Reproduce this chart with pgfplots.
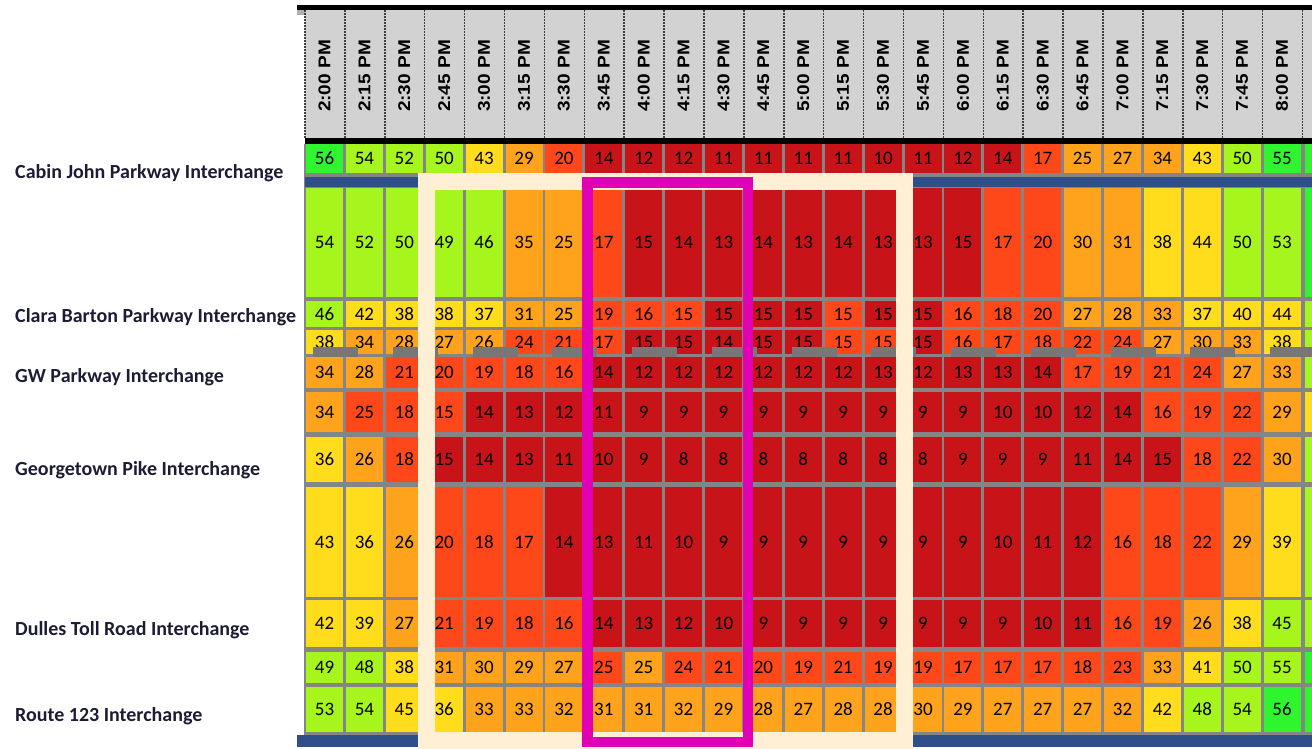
\documentclass[border=0pt]{standalone}
\usepackage{fontspec}
\usepackage{graphicx}
\usepackage{pgfplots}
\usepackage{pgfplotstable}
\pgfplotsset{compat=1.18}
\newfontfamily\carlito{Carlito}
\newfontfamily\libsans{Liberation Sans}
\newcommand\cellfont{\carlito\fontsize{19}{19}\selectfont}
\newcommand\hdrfont{\libsans\bfseries\fontsize{17}{17}\selectfont}
\newcommand\rowfont{\carlito\bfseries\fontsize{20}{20}\selectfont}

\definecolor{cls0}{RGB}{200,20,24}
\definecolor{cls1}{RGB}{255,72,26}
\definecolor{cls2}{RGB}{255,162,28}
\definecolor{cls3}{RGB}{255,221,28}
\definecolor{cls4}{RGB}{166,245,28}
\definecolor{cls5}{RGB}{46,245,46}
\definecolor{gapgray}{RGB}{133,133,133}
\definecolor{hdrgray}{RGB}{211,210,211}
\definecolor{barblue}{RGB}{47,79,139}
\definecolor{cream}{RGB}{255,239,213}
\definecolor{magenta2}{RGB}{225,0,180}
\definecolor{dashgray}{RGB}{120,118,118}
\definecolor{labelnavy}{RGB}{28,28,52}

\pgfdeclareplotmark{cell}{%
  \pgfpathrectangle{\pgfpoint{-18.5pt}{-\pgfplotmarksize}}{\pgfpoint{37pt}{2\pgfplotmarksize}}%
  \pgfusepathqfill}
\pgfdeclareplotmark{edgecell}{%
  \pgfpathrectangle{\pgfpoint{-3.75pt}{-1pt*\hh}}{\pgfpoint{7.5pt}{2pt*\hh}}%
  \pgfusepathqfill}

% speeds (mph) per segment row r1..r11 and colour class k1..k11
% classes: 0 dark red, 1 red-orange, 2 orange, 3 yellow, 4 yellow-green, 5 green
\pgfplotstableread{
t  r1 k1 r2 k2 r3 k3 r4 k4 r5 k5 r6 k6 r7 k7 r8 k8 r9 k9 r10 k10 r11 k11
0  56 5  54 4  46 4  38 3  34 2  34 2  36 3  43 3  42 3  49 4  53 4
1  54 4  52 4  42 3  34 2  28 2  25 1  26 2  36 3  39 3  48 4  54 4
2  52 4  50 4  38 3  28 2  21 1  18 1  18 1  26 2  27 2  38 3  45 3
3  50 4  49 4  38 3  27 2  20 1  15 1  15 0  20 1  21 1  31 2  36 3
4  43 3  46 4  37 3  26 2  19 1  14 0  14 0  18 1  19 1  30 2  33 2
5  29 2  35 2  31 2  24 1  18 1  13 0  13 0  17 1  18 1  29 2  33 2
6  20 1  25 2  25 2  21 1  16 1  12 0  11 0  14 0  16 1  27 2  32 2
7  14 0  17 1  19 1  17 1  14 0  11 0  10 0  13 0  14 0  25 1  31 2
8  12 0  15 0  16 1  15 0  12 0  9 0   9 0   11 0  13 0  25 2  31 2
9  12 0  14 0  15 1  15 0  12 0  9 0   8 0   10 0  12 0  24 1  32 2
10 11 0  13 0  15 0  14 0  12 0  9 0   8 0   9 0   10 0  21 1  29 2
11 11 0  14 0  15 0  15 0  12 0  9 0   8 0   9 0   9 0   20 1  28 2
12 11 0  13 0  15 0  15 0  12 0  9 0   8 0   9 0   9 0   19 1  27 2
13 11 0  14 0  15 1  15 1  12 0  9 0   8 0   9 0   9 0   21 1  28 2
14 10 0  13 0  15 0  15 1  13 0  9 0   8 0   9 0   9 0   19 1  28 2
15 11 0  13 0  15 0  15 0  12 0  9 0   8 0   9 0   9 0   19 1  30 2
16 12 0  15 0  16 1  16 1  13 0  9 0   9 0   9 0   9 0   17 1  29 2
17 14 0  17 1  18 1  17 1  13 0  10 0  9 0   10 0  9 0   17 1  27 2
18 17 1  20 1  20 1  18 1  14 0  10 0  9 0   11 0  10 0  17 1  27 2
19 25 2  30 2  27 2  22 1  17 1  12 0  11 0  12 0  11 0  18 1  27 2
20 27 2  31 2  28 2  24 1  19 1  14 0  14 0  16 1  16 1  23 1  32 2
21 34 2  38 3  33 2  27 2  21 1  16 1  15 0  18 1  19 1  33 2  42 3
22 43 3  44 3  37 3  30 2  24 1  19 1  18 1  22 1  26 2  41 3  48 4
23 50 4  50 4  40 3  33 2  27 2  22 1  22 1  29 2  38 3  50 4  54 4
24 55 5  53 4  44 3  38 3  33 2  29 2  30 2  39 3  45 4  55 4  56 5
}\speeds

% cut-off 8:15 PM column at the right edge: row centre, half height, class
\pgfplotstableread{
y     h    k
158.5 14.5 5
242.5 54.5 5
314   13   4
342   12   4
372.5 15.5 4
412   20   3
459.5 22.5 4
542   55   4
623.5 23.5 4
667.5 15.5 5
709.5 22.5 5
}\edgecol

\pgfplotstableread[col sep=comma]{
t,time
0,2:00 PM
1,2:15 PM
2,2:30 PM
3,2:45 PM
4,3:00 PM
5,3:15 PM
6,3:30 PM
7,3:45 PM
8,4:00 PM
9,4:15 PM
10,4:30 PM
11,4:45 PM
12,5:00 PM
13,5:15 PM
14,5:30 PM
15,5:45 PM
16,6:00 PM
17,6:15 PM
18,6:30 PM
19,6:45 PM
20,7:00 PM
21,7:15 PM
22,7:30 PM
23,7:45 PM
24,8:00 PM
}\timetab

\pgfplotsset{
  cells/.style={scatter, only marks, mark=cell, mark size=#1,
    point meta=explicit symbolic,
    scatter/@pre marker code/.code={\pgfsetfillcolor{cls\pgfplotspointmeta}},
    scatter/@post marker code/.code={}},
  vals/.style={draw=none, mark=none, nodes near coords, point meta=explicit symbolic,
    every node near coord/.style={anchor=center, inner sep=0pt, font=\cellfont, text=black}},
}

\begin{document}
\begin{tikzpicture}
\begin{axis}[
  x=1pt, y=1pt, y dir=reverse,
  xmin=0, xmax=1312, ymin=0, ymax=748,
  enlargelimits=false, hide axis,
  clip marker paths=true,
]
\coordinate (BBtl) at (0,0);
\coordinate (BBbr) at (1312,748);
% header
\fill[hdrgray] (305,10) rectangle (1312,138);
\fill[black] (297,5) rectangle (1312,10);
\fill[black!30] (297,10) rectangle (305,15);
\fill[black] (305,138) rectangle (1312,144);
\pgfplotsinvokeforeach{0,...,25}{
  \draw[black!75, line width=1.5pt, dash pattern=on 2pt off 1pt] ({305+39.9*#1},10) -- ({305+39.9*#1},138);
}
% grid background
\fill[gapgray] (304,144) rectangle (1312,735);

\addplot[cells=14.5pt] table[x expr=324.5+39.9*\thisrow{t}, y expr=158.5, meta=k1]{\speeds};
\addplot[cells=54.5pt] table[x expr=324.5+39.9*\thisrow{t}, y expr=242.5, meta=k2]{\speeds};
\addplot[cells=13pt]   table[x expr=324.5+39.9*\thisrow{t}, y expr=314,   meta=k3]{\speeds};
\addplot[cells=12pt]   table[x expr=324.5+39.9*\thisrow{t}, y expr=342,   meta=k4]{\speeds};
\addplot[cells=15.5pt] table[x expr=324.5+39.9*\thisrow{t}, y expr=372.5, meta=k5]{\speeds};
\addplot[cells=20pt]   table[x expr=324.5+39.9*\thisrow{t}, y expr=412,   meta=k6]{\speeds};
\addplot[cells=22.5pt] table[x expr=324.5+39.9*\thisrow{t}, y expr=459.5, meta=k7]{\speeds};
\addplot[cells=55pt]   table[x expr=324.5+39.9*\thisrow{t}, y expr=542,   meta=k8]{\speeds};
\addplot[cells=23.5pt] table[x expr=324.5+39.9*\thisrow{t}, y expr=623.5, meta=k9]{\speeds};
\addplot[cells=15.5pt] table[x expr=324.5+39.9*\thisrow{t}, y expr=667.5, meta=k10]{\speeds};
\addplot[cells=22.5pt] table[x expr=324.5+39.9*\thisrow{t}, y expr=709.5, meta=k11]{\speeds};
% partial column at the right edge
\addplot[scatter, only marks, mark=edgecell, point meta=explicit symbolic,
  visualization depends on={\thisrow{h}\as\hh},
  scatter/@pre marker code/.code={\pgfsetfillcolor{cls\pgfplotspointmeta}},
  scatter/@post marker code/.code={}]
  table[x expr=1308.25, y=y, meta=k]{\edgecol};

\addplot[vals] table[x expr=324.5+39.9*\thisrow{t}, y expr=158.5, meta=r1]{\speeds};
\addplot[vals] table[x expr=324.5+39.9*\thisrow{t}, y expr=242.5, meta=r2]{\speeds};
\addplot[vals] table[x expr=324.5+39.9*\thisrow{t}, y expr=314,   meta=r3]{\speeds};
\addplot[vals] table[x expr=324.5+39.9*\thisrow{t}, y expr=342,   meta=r4]{\speeds};
\addplot[vals] table[x expr=324.5+39.9*\thisrow{t}, y expr=372.5, meta=r5]{\speeds};
\addplot[vals] table[x expr=324.5+39.9*\thisrow{t}, y expr=412,   meta=r6]{\speeds};
\addplot[vals] table[x expr=324.5+39.9*\thisrow{t}, y expr=459.5, meta=r7]{\speeds};
\addplot[vals] table[x expr=324.5+39.9*\thisrow{t}, y expr=542,   meta=r8]{\speeds};
\addplot[vals] table[x expr=324.5+39.9*\thisrow{t}, y expr=623.5, meta=r9]{\speeds};
\addplot[vals] table[x expr=324.5+39.9*\thisrow{t}, y expr=667.5, meta=r10]{\speeds};
\addplot[vals] table[x expr=324.5+39.9*\thisrow{t}, y expr=709.5, meta=r11]{\speeds};

% time header labels
\addplot[draw=none, mark=none, nodes near coords={\scalebox{1.12}[1]{\pgfplotspointmeta}},
  point meta=explicit symbolic,
  every node near coord/.style={rotate=90, anchor=center, inner sep=0pt, font=\hdrfont, text=black}]
  table[x expr=324.5+39.9*\thisrow{t}, y expr=76, meta=time]{\timetab};

% overlays
\draw[dashgray, line width=10pt, dash pattern=on 45pt off 34.75pt] (313,352) -- (1312,352);
\fill[barblue] (305,177) rectangle (1312,187);
\fill[barblue] (297,735) rectangle (1312,747);
\draw[cream, line width=17pt] (426.5,181.5) rectangle (904,740.5);
\draw[magenta2, line width=10.5pt] (587.25,182.25) rectangle (747.75,741.75);

% row labels
\node[anchor=west, inner sep=0pt, font=\rowfont, text=labelnavy] at (15,173) {Cabin John Parkway Interchange};
\node[anchor=west, inner sep=0pt, font=\rowfont, text=labelnavy] at (15,317.5) {Clara Barton Parkway Interchange};
\node[anchor=west, inner sep=0pt, font=\rowfont, text=labelnavy] at (15,377.5) {GW Parkway Interchange};
\node[anchor=west, inner sep=0pt, font=\rowfont, text=labelnavy] at (15,470) {Georgetown Pike Interchange};
\node[anchor=west, inner sep=0pt, font=\rowfont, text=labelnavy] at (15,630) {Dulles Toll Road Interchange};
\node[anchor=west, inner sep=0pt, font=\rowfont, text=labelnavy] at (15,716.5) {Route 123 Interchange};
\end{axis}
\pgfresetboundingbox
\useasboundingbox (BBtl) rectangle (BBbr);
\end{tikzpicture}
\end{document}
